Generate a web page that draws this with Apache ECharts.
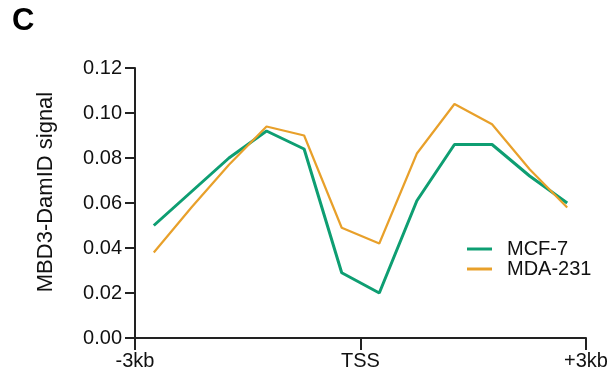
<!DOCTYPE html>
<html>
<head>
<meta charset="utf-8">
<script src="https://cdn.jsdelivr.net/npm/echarts@6/dist/echarts.min.js"></script>
<style>
  html, body { margin: 0; padding: 0; background: #fff; }
  #chart { width: 616px; height: 381px; }
</style>
</head>
<body>
<div id="chart"></div>
<script>
// 12 bins spanning -3kb .. +3kb around the TSS; values sit at bin centres
const binCentres = [0.5, 1.5, 2.5, 3.5, 4.5, 5.5, 6.5, 7.5, 8.5, 9.5, 10.5, 11.5];
const mcf7 = [0.050, 0.065, 0.080, 0.092, 0.084, 0.029, 0.020, 0.061, 0.086, 0.086, 0.072, 0.060];
const mda231 = [0.038, 0.058, 0.077, 0.094, 0.090, 0.049, 0.042, 0.082, 0.104, 0.095, 0.075, 0.058];
const xTickLabels = { 0: '-3kb', 6: 'TSS', 12: '+3kb' };
const yTicks = [0, 0.02, 0.04, 0.06, 0.08, 0.10, 0.12];

const font = 'Liberation Sans, Arial, Helvetica, sans-serif';
const axisColor = '#222';
const textColor = '#111';

const chart = echarts.init(document.getElementById('chart'), null, { renderer: 'canvas' });
chart.setOption({
  animation: false,
  backgroundColor: '#fff',
  title: {
    text: 'C',
    left: 7, top: 1,
    textStyle: { fontFamily: font, fontSize: 31, fontWeight: 'bold', color: '#000' }
  },
  grid: { left: 135, right: 30, top: 68, bottom: 43, containLabel: false },
  legend: {
    orient: 'vertical',
    left: 462, top: 234,
    itemWidth: 25, itemHeight: 3, itemGap: 0,
    icon: 'rect',
    textStyle: { fontFamily: font, fontSize: 20, lineHeight: 19, color: textColor, padding: [0, 0, 0, 10] },
    data: ['MCF-7', 'MDA-231']
  },
  xAxis: {
    type: 'value',
    min: 0, max: 12, interval: 6,
    axisLine: { show: true, lineStyle: { color: axisColor, width: 2 } },
    axisTick: { show: true, length: 12, lineStyle: { color: axisColor, width: 2 } },
    axisLabel: {
      fontFamily: font, fontSize: 20, color: textColor, margin: 13,
      formatter: v => xTickLabels[v] || ''
    },
    splitLine: { show: false }
  },
  yAxis: {
    type: 'value',
    min: 0, max: 0.12, interval: 0.02,
    name: 'MBD3-DamID signal',
    nameLocation: 'middle',
    nameGap: 78,
    nameTextStyle: { fontFamily: font, fontSize: 22, color: textColor, padding: [0, 0, 0, 22] },
    axisLine: { show: true, lineStyle: { color: axisColor, width: 2 } },
    axisTick: { show: true, length: 10, lineStyle: { color: axisColor, width: 2 } },
    axisLabel: {
      fontFamily: font, fontSize: 20, color: textColor, margin: 13,
      formatter: v => v.toFixed(2)
    },
    splitLine: { show: false }
  },
  series: [
    {
      name: 'MCF-7', type: 'line', symbol: 'none',
      color: '#0E9E72',
      lineStyle: { width: 3, color: '#0E9E72' },
      data: binCentres.map((x, i) => [x, mcf7[i]])
    },
    {
      name: 'MDA-231', type: 'line', symbol: 'none',
      color: '#E8A02A',
      lineStyle: { width: 2.2, color: '#E8A02A' },
      data: binCentres.map((x, i) => [x, mda231[i]])
    }
  ]
});
</script>
</body>
</html>
